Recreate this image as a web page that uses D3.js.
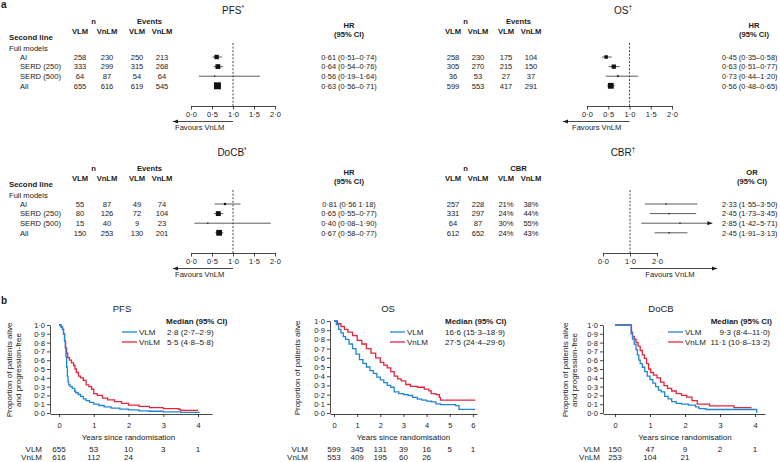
<!DOCTYPE html>
<html><head><meta charset="utf-8">
<script src="https://cdn.jsdelivr.net/npm/d3@7"></script>
<style>
body{margin:0;background:#fff}
text{font-family:"Liberation Sans",Arial,Helvetica,sans-serif;fill:#1a1a1a}
.axis path,.axis line{stroke:#1a1a1a;stroke-width:0.8;fill:none}
.axis text{font-size:7.5px;fill:#1a1a1a;font-family:"Liberation Sans",Arial,sans-serif}
</style></head><body><script>
////////// data //////////
var rowLabels = ["AI", "SERD (250)", "SERD (500)", "All"];

// PFS forest
var pfsNVlm = [258, 333, 64, 655], pfsNVnlm = [230, 299, 87, 616];
var pfsEvVlm = [250, 315, 54, 619], pfsEvVnlm = [213, 268, 64, 545];
var pfsHr = [0.61, 0.64, 0.56, 0.63], pfsLo = [0.51, 0.54, 0.19, 0.56], pfsHi = [0.74, 0.76, 1.64, 0.71];
var pfsHrText = ["0·61 (0·51–0·74)", "0·64 (0·54–0·76)", "0·56 (0·19–1·64)", "0·63 (0·56–0·71)"];

// OS forest
var osNVlm = [258, 305, 36, 599], osNVnlm = [230, 270, 53, 553];
var osEvVlm = [175, 215, 27, 417], osEvVnlm = [104, 150, 37, 291];
var osHr = [0.45, 0.63, 0.73, 0.56], osLo = [0.35, 0.51, 0.44, 0.48], osHi = [0.58, 0.77, 1.20, 0.65];
var osHrText = ["0·45 (0·35–0·58)", "0·63 (0·51–0·77)", "0·73 (0·44–1·20)", "0·56 (0·48–0·65)"];

// DoCB forest
var docbNVlm = [55, 80, 15, 150], docbNVnlm = [87, 126, 40, 253];
var docbEvVlm = [49, 72, 9, 130], docbEvVnlm = [74, 104, 23, 201];
var docbHr = [0.81, 0.65, 0.40, 0.67], docbLo = [0.56, 0.55, 0.08, 0.58], docbHi = [1.18, 0.77, 1.90, 0.77];
var docbHrText = ["0·81 (0·56 1·18)", "0·65 (0·55–0·77)", "0·40 (0·08–1·90)", "0·67 (0·58–0·77)"];

// CBR forest
var cbrNVlm = [257, 331, 64, 612], cbrNVnlm = [228, 297, 87, 652];
var cbrPctVlm = [21, 24, 30, 24], cbrPctVnlm = [38, 44, 55, 43];
var cbrOr = [2.33, 2.45, 2.85, 2.45], cbrLo = [1.55, 1.73, 1.42, 1.91], cbrHi = [3.50, 3.45, 5.71, 3.13];
var cbrOrText = ["2·33 (1·55–3·50)", "2·45 (1·73–3·45)", "2·85 (1·42–5·71)", "2·45 (1·91–3·13)"];

// Kaplan-Meier curves (years, proportion)
var pfsVlmT = [0, 0.05, 0.1, 0.13, 0.16, 0.18, 0.2, 0.22, 0.24, 0.26, 0.28, 0.32, 0.38, 0.45, 0.48, 0.55, 0.62, 0.7, 0.78, 0.88, 1.0, 1.15, 1.3, 1.5, 1.75, 2.0, 2.3, 2.6, 3.0, 3.5, 4.05];
var pfsVlmS = [1.0, 0.98, 0.95, 0.9, 0.82, 0.74, 0.64, 0.52, 0.42, 0.35, 0.32, 0.30, 0.28, 0.25, 0.23, 0.21, 0.19, 0.16, 0.14, 0.12, 0.10, 0.085, 0.07, 0.055, 0.045, 0.035, 0.025, 0.02, 0.012, 0.008, 0.008];
var pfsVnlmT = [0, 0.06, 0.1, 0.13, 0.16, 0.19, 0.22, 0.25, 0.3, 0.36, 0.42, 0.46, 0.5, 0.56, 0.62, 0.7, 0.78, 0.86, 0.94, 1.0, 1.1, 1.25, 1.4, 1.6, 1.8, 2.0, 2.3, 2.6, 3.0, 3.45, 3.5, 4.0];
var pfsVnlmS = [1.0, 0.98, 0.95, 0.9, 0.82, 0.74, 0.68, 0.63, 0.6, 0.57, 0.54, 0.5, 0.46, 0.42, 0.40, 0.37, 0.32, 0.30, 0.27, 0.22, 0.20, 0.17, 0.15, 0.13, 0.11, 0.09, 0.075, 0.06, 0.05, 0.04, 0.03, 0.03];

var osVlmT = [0, 0.1, 0.2, 0.3, 0.4, 0.5, 0.65, 0.8, 0.95, 1.1, 1.25, 1.4, 1.55, 1.7, 1.85, 2.0, 2.15, 2.3, 2.45, 2.6, 2.8, 3.0, 3.2, 3.4, 3.6, 3.8, 4.0, 4.2, 4.4, 4.6, 5.25, 5.4, 6.1];
var osVlmS = [1.0, 0.96, 0.91, 0.87, 0.83, 0.8, 0.75, 0.7, 0.64, 0.58, 0.54, 0.5, 0.46, 0.43, 0.39, 0.36, 0.33, 0.3, 0.28, 0.23, 0.21, 0.2, 0.19, 0.17, 0.15, 0.14, 0.13, 0.12, 0.1, 0.09, 0.08, 0.04, 0.04];
var osVnlmT = [0, 0.15, 0.3, 0.45, 0.6, 0.8, 1.0, 1.2, 1.4, 1.6, 1.8, 2.0, 2.15, 2.3, 2.45, 2.6, 2.75, 2.9, 3.1, 3.3, 3.6, 3.9, 4.1, 4.2, 4.4, 4.55, 4.6, 6.1];
var osVnlmS = [1.0, 0.97, 0.94, 0.91, 0.88, 0.84, 0.79, 0.75, 0.7, 0.65, 0.6, 0.55, 0.52, 0.49, 0.45, 0.4, 0.37, 0.35, 0.31, 0.29, 0.28, 0.26, 0.24, 0.21, 0.2, 0.17, 0.14, 0.14];

var docbVlmT = [0, 0.46, 0.5, 0.55, 0.6, 0.64, 0.68, 0.72, 0.78, 0.85, 0.92, 1.0, 1.08, 1.16, 1.24, 1.32, 1.42, 1.52, 1.62, 1.75, 1.9, 2.1, 2.3, 2.4, 2.6, 4.05, 4.05];
var docbVlmS = [1.0, 0.9, 0.84, 0.78, 0.72, 0.66, 0.6, 0.56, 0.52, 0.47, 0.42, 0.38, 0.34, 0.3, 0.26, 0.24, 0.19, 0.16, 0.13, 0.11, 0.1, 0.09, 0.07, 0.05, 0.04, 0.04, 0.0];
var docbVnlmT = [0, 0.47, 0.5, 0.55, 0.6, 0.66, 0.72, 0.78, 0.84, 0.9, 0.96, 1.02, 1.1, 1.2, 1.3, 1.4, 1.5, 1.62, 1.75, 1.9, 2.05, 2.2, 2.35, 2.7, 3.4, 3.9];
var docbVnlmS = [1.0, 0.92, 0.87, 0.84, 0.8, 0.76, 0.71, 0.66, 0.62, 0.56, 0.5, 0.46, 0.43, 0.4, 0.35, 0.31, 0.28, 0.25, 0.22, 0.2, 0.18, 0.14, 0.1, 0.08, 0.06, 0.06];

// numbers at risk
var pfsRiskVlm = [655, 53, 10, 3, 1], pfsRiskVnlm = [616, 112, 24];
var osRiskVlm = [599, 345, 131, 39, 16, 5, 1], osRiskVnlm = [553, 409, 195, 60, 26];
var docbRiskVlm = [150, 47, 9, 2, 1], docbRiskVnlm = [253, 104, 21];

var pfsMedian = ["2·8 (2·7–2·9)", "5·5 (4·8–5·8)"];
var osMedian = ["16·6 (15·3–18·9)", "27·5 (24·4–29·6)"];
var docbMedian = ["9·3 (8·4–11·0)", "11·1 (10·8–13·2)"];

var blue = "#1f86d6", red = "#e8243d", ink = "#1a1a1a";

function dot(p) { return function(v) { return d3.format("." + p + "f")(v).replace(".", "·"); }; }

var svg = d3.select("body").append("svg").attr("width", 780).attr("height", 462);

function txt(x, y, s, size, anchor) {
  return svg.append("text").attr("x", x).attr("y", y).attr("font-size", size)
    .attr("text-anchor", anchor || "start").attr("fill", ink).text(s);
}

txt(1, 8, "a", 10).attr("font-weight", "bold");
txt(1, 304, "b", 10).attr("font-weight", "bold");

////////// forest plots //////////
function forest(o) {
  var g = svg.append("g").attr("transform", "translate(0," + o.dy + ")");
  var fs = 7.6;
  var rowY = [57, 66.6, 76.2, 85.8];
  function gt(x, y, s, size, anchor) {
    return g.append("text").attr("x", x).attr("y", y).attr("font-size", size)
      .attr("text-anchor", anchor || "start").attr("fill", ink).text(s);
  }

  var t = txt(o.titleX, o.titleY, o.title, 10, "middle");
  t.append("tspan").attr("font-size", 6.5).attr("dy", -3.5).text(o.sup);

  // column headers
  gt((o.cols[0] + o.cols[1]) / 2, 24, "n", fs, "middle").attr("font-weight", "bold");
  gt((o.cols[2] + o.cols[3]) / 2, 24, o.hdr2, fs, "middle").attr("font-weight", "bold");
  ["VLM", "VnLM", "VLM", "VnLM"].forEach(function(h, i) {
    gt(o.cols[i], 34, h, fs, "middle").attr("font-weight", "bold");
  });
  gt(o.effHdrX, 28, o.effHdr, fs, "middle").attr("font-weight", "bold");
  gt(o.effHdrX, 36.5, "(95% CI)", fs, "middle").attr("font-weight", "bold");

  if (o.rowLabels) {
    gt(9, 40, "Second line", 7.8).attr("font-weight", "bold");
    gt(9, 51, "Full models", fs);
    rowLabels.forEach(function(r, i) { gt(20, rowY[i] + 2.8, r, fs); });
  }

  o.table.forEach(function(col, c) {
    col.forEach(function(v, i) { gt(o.cols[c], rowY[i] + 2.8, o.fmt[c](v), fs, "middle"); });
  });
  o.effText.forEach(function(s, i) { gt(o.effX, rowY[i] + 2.8, s, 7.4, o.effAnchor); });

  var x = d3.scaleLinear().domain([0, 2]).range(o.range);

  // reference line
  g.append("line").attr("x1", x(1)).attr("x2", x(1)).attr("y1", 43).attr("y2", 106)
    .attr("stroke", ink).attr("stroke-width", 0.8).attr("stroke-dasharray", "2,1.6");

  // estimates, square area from the CI width
  o.est.forEach(function(e, i) {
    var hi = Math.min(o.hi[i], o.cap), y = rowY[i];
    g.append("line").attr("x1", x(o.lo[i])).attr("x2", x(hi)).attr("y1", y).attr("y2", y)
      .attr("stroke", "#333").attr("stroke-width", 0.8);
    if (o.hi[i] > o.cap) {
      g.append("path").attr("d", "M" + x(hi) + "," + y + "l-5,-2l0,4z").attr("fill", ink);
    }
    var se = (Math.log(o.hi[i]) - Math.log(o.lo[i])) / 3.92;
    var side = Math.max(1.3, o.mk * Math.sqrt(1 / (se * se)));
    g.append("rect").attr("x", x(e) - side / 2).attr("y", y - side / 2)
      .attr("width", side).attr("height", side).attr("fill", "#111");
  });

  g.append("g").attr("class", "axis").attr("transform", "translate(0,106)")
    .call(d3.axisBottom(x).tickValues(o.ticks).tickSize(3.5).tickSizeOuter(0).tickPadding(2).tickFormat(dot(1)));

  // favours arrow
  var ay = 121.5;
  g.append("line").attr("x1", x(1)).attr("x2", o.arrowTo).attr("y1", ay).attr("y2", ay)
    .attr("stroke", ink).attr("stroke-width", 0.8);
  var dir = o.arrowTo < x(1) ? 1 : -1;
  g.append("path").attr("d", "M" + o.arrowTo + "," + ay + "l" + (5 * dir) + ",-2l0,4z").attr("fill", ink);
  gt(o.favX, 129.5, "Favours VnLM", fs, o.favAnchor);
}

var num = function(v) { return v; }, pct = function(v) { return v + "%"; };

forest({dy: 0, title: "PFS", sup: "*", titleX: 233, titleY: 13.5, cols: [80, 107, 137, 162], hdr2: "Events",
  rowLabels: true, table: [pfsNVlm, pfsNVnlm, pfsEvVlm, pfsEvVnlm], fmt: [num, num, num, num],
  effX: 349, effAnchor: "middle", effHdrX: 349, effHdr: "HR", effText: pfsHrText, est: pfsHr, lo: pfsLo, hi: pfsHi, cap: 99, mk: 0.42,
  range: [191, 275], ticks: [0, 0.5, 1, 1.5, 2], arrowTo: 173, favX: 175, favAnchor: "start"});

forest({dy: 0, title: "OS", sup: "†", titleX: 623, titleY: 13.5, cols: [453, 478, 506, 531], hdr2: "Events",
  rowLabels: false, table: [osNVlm, osNVnlm, osEvVlm, osEvVnlm], fmt: [num, num, num, num],
  effX: 722, effAnchor: "start", effHdrX: 754, effHdr: "HR", effText: osHrText, est: osHr, lo: osLo, hi: osHi, cap: 99, mk: 0.45,
  range: [587, 672], ticks: [0, 0.5, 1, 1.5, 2], arrowTo: 563, favX: 572, favAnchor: "start"});

forest({dy: 147, title: "DoCB", sup: "*", titleX: 232, titleY: 155.5, cols: [80, 107, 137, 162], hdr2: "Events",
  rowLabels: true, table: [docbNVlm, docbNVnlm, docbEvVlm, docbEvVnlm], fmt: [num, num, num, num],
  effX: 349, effAnchor: "middle", effHdrX: 349, effHdr: "HR", effText: docbHrText, est: docbHr, lo: docbLo, hi: docbHi, cap: 99, mk: 0.42,
  range: [191, 275], ticks: [0, 0.5, 1, 1.5, 2], arrowTo: 173, favX: 175, favAnchor: "start"});

forest({dy: 147, title: "CBR", sup: "†", titleX: 623, titleY: 155.5, cols: [453, 478, 506, 531], hdr2: "CBR",
  rowLabels: false, table: [cbrNVlm, cbrNVnlm, cbrPctVlm, cbrPctVnlm], fmt: [num, num, pct, pct],
  effX: 722, effAnchor: "start", effHdrX: 752, effHdr: "OR", effText: cbrOrText, est: cbrOr, lo: cbrLo, hi: cbrHi, cap: 4.05, mk: 0.15,
  range: [603, 657], ticks: [0, 1, 2], arrowTo: 717, favX: 670, favAnchor: "middle"});

////////// Kaplan-Meier plots //////////
function km(o) {
  var x = d3.scaleLinear().domain([0, 1]).range([o.t0, o.t0 + o.ppy]);
  var y = d3.scaleLinear().domain([0, 1]).range([o.y0, o.y1]);
  var xa = x.copy().domain([x.invert(o.ax), x.invert(o.axEnd)]).range([o.ax, o.axEnd]);

  txt(o.titleX, 312, o.title, 9.5, "middle");

  svg.append("g").attr("class", "axis").attr("transform", "translate(" + o.ax + ",0)")
    .call(d3.axisLeft(y).tickValues(d3.range(11).map(function(i) { return i / 10; }))
      .tickSize(3).tickSizeOuter(0).tickPadding(2).tickFormat(dot(1)));
  svg.append("g").attr("class", "axis").attr("transform", "translate(0," + (o.y0 + 1) + ")")
    .call(d3.axisBottom(xa).tickValues(d3.range(o.tmax + 1)).tickSize(3).tickSizeOuter(0).tickPadding(6).tickFormat(d3.format("d")))
    .selectAll("text").attr("font-size", 8);

  o.ylab.forEach(function(s, i) {
    svg.append("text").attr("transform", "translate(" + o.ylabX[i] + "," + ((o.y0 + o.y1) / 2 + 1) + ") rotate(-90)")
      .attr("text-anchor", "middle").attr("font-size", 8).attr("fill", ink).text(s);
  });
  txt(x(o.tmax / 2), 440, "Years since randomisation", 8, "middle");

  var line = d3.line().x(function(d) { return x(d[0]); }).y(function(d) { return y(d[1]); }).curve(d3.curveStepAfter);
  [[o.vnlmT, o.vnlmS, red], [o.vlmT, o.vlmS, blue]].forEach(function(c) {
    svg.append("path").datum(c[0].map(function(t, i) { return [t, c[1][i]]; }))
      .attr("d", line).attr("fill", "none").attr("stroke", c[2]).attr("stroke-width", 1.3);
  });

  // legend
  [["VLM", blue], ["VnLM", red]].forEach(function(l, i) {
    var ly = 332 + i * 10;
    svg.append("line").attr("x1", o.legX).attr("x2", o.legX + 15).attr("y1", ly).attr("y2", ly)
      .attr("stroke", l[1]).attr("stroke-width", 1.3);
    txt(o.legX + 17, ly + 3, l[0], 8);
    txt(o.medX, ly + 3, o.median[i], 8, o.medAnchor);
  });
  txt(o.medHdrX, 324, "Median (95% CI)", 8, o.medAnchor).attr("font-weight", "bold");

  // numbers at risk
  [["VLM", o.riskVlm, 452], ["VnLM", o.riskVnlm, 459.5]].forEach(function(r) {
    txt(o.riskX, r[2], r[0], 8, "end");
    r[1].forEach(function(v, i) { txt(x(i), r[2], v, 8, "middle"); });
  });
}

km({title: "PFS", titleX: 122, ax: 50, axEnd: 212, t0: 59, ppy: 34.75, tmax: 4, y0: 413, y1: 325,
  ylab: ["Proportion of patients alive", "and progression-free"], ylabX: [12, 21],
  vlmT: pfsVlmT, vlmS: pfsVlmS, vnlmT: pfsVnlmT, vnlmS: pfsVnlmS,
  legX: 122, medX: 167, medHdrX: 166, medAnchor: "start", median: pfsMedian,
  riskX: 42, riskVlm: pfsRiskVlm, riskVnlm: pfsRiskVnlm});

km({title: "OS", titleX: 388, ax: 330, axEnd: 477, t0: 334, ppy: 23.15, tmax: 6, y0: 413, y1: 321,
  ylab: ["Proportion of patients alive"], ylabX: [300],
  vlmT: osVlmT, vlmS: osVlmS, vnlmT: osVnlmT, vnlmS: osVnlmS,
  legX: 390, medX: 445, medHdrX: 445, medAnchor: "start", median: osMedian,
  riskX: 308, riskVlm: osRiskVlm, riskVnlm: osRiskVnlm});

km({title: "DoCB", titleX: 661, ax: 603, axEnd: 765, t0: 615, ppy: 35, tmax: 4, y0: 413, y1: 325,
  ylab: ["Proportion of patients alive", "and progression-free"], ylabX: [568, 577],
  vlmT: docbVlmT, vlmS: docbVlmS, vnlmT: docbVnlmT, vnlmS: docbVnlmS,
  legX: 668, medX: 770, medHdrX: 772, medAnchor: "end", median: docbMedian,
  riskX: 600, riskVlm: docbRiskVlm, riskVnlm: docbRiskVnlm});
</script></body></html>
